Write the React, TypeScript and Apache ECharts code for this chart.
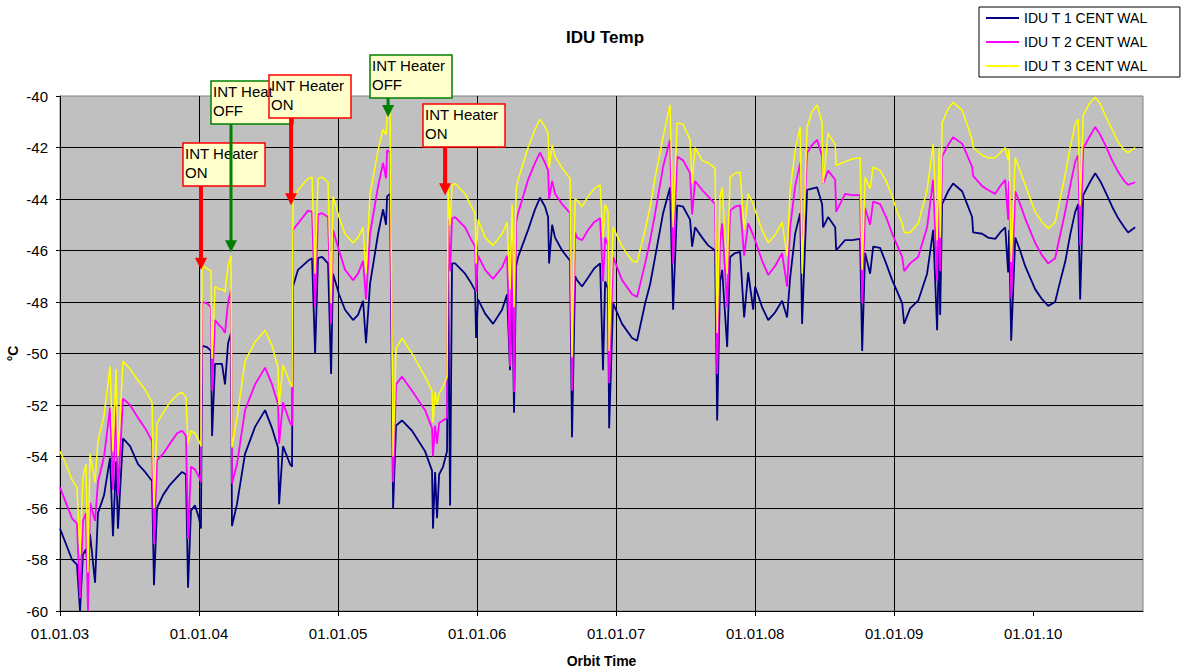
import { useEffect, useRef } from 'react';
import * as echarts from 'echarts';

// Orbit time in years since 01.01.03
const orbitTime = [
  0.000, 0.043, 0.086, 0.122, 0.144, 0.165, 0.187, 0.201, 0.216, 0.252,
  0.273, 0.317, 0.360, 0.381, 0.403, 0.417, 0.453, 0.504, 0.561, 0.612,
  0.662, 0.676, 0.698, 0.741, 0.791, 0.842, 0.878, 0.906, 0.921, 0.942,
  0.971, 1.000, 1.014, 1.022, 1.058, 1.086, 1.094, 1.115, 1.144, 1.165,
  1.187, 1.209, 1.230, 1.237, 1.273, 1.331, 1.403, 1.475, 1.525, 1.568,
  1.576, 1.604, 1.655, 1.669, 1.676, 1.712, 1.784, 1.813, 1.835, 1.856,
  1.885, 1.928, 1.950, 1.964, 2.007, 2.050, 2.108, 2.144, 2.180, 2.201,
  2.230, 2.288, 2.324, 2.345, 2.353, 2.374, 2.396, 2.417, 2.460, 2.532,
  2.626, 2.676, 2.683, 2.698, 2.712, 2.727, 2.755, 2.784, 2.791, 2.806,
  2.820, 2.842, 2.914, 2.950, 2.986, 2.993, 3.007, 3.058, 3.115, 3.180,
  3.216, 3.237, 3.252, 3.266, 3.281, 3.295, 3.367, 3.417, 3.453, 3.489,
  3.511, 3.518, 3.540, 3.561, 3.612, 3.669, 3.683, 3.705, 3.719, 3.755,
  3.799, 3.842, 3.885, 3.906, 3.921, 3.942, 3.950, 3.978, 4.043, 4.115,
  4.151, 4.209, 4.245, 4.281, 4.338, 4.388, 4.410, 4.439, 4.482, 4.532,
  4.547, 4.568, 4.619, 4.662, 4.712, 4.727, 4.748, 4.763, 4.799, 4.820,
  4.856, 4.892, 4.921, 4.950, 4.986, 5.000, 5.050, 5.094, 5.144, 5.194,
  5.230, 5.252, 5.288, 5.324, 5.338, 5.374, 5.410, 5.446, 5.482, 5.489,
  5.525, 5.576, 5.583, 5.647, 5.698, 5.755, 5.770, 5.791, 5.827, 5.849,
  5.899, 5.942, 5.986, 6.022, 6.058, 6.072, 6.115, 6.173, 6.237, 6.281,
  6.309, 6.324, 6.331, 6.345, 6.388, 6.424, 6.489, 6.525, 6.561, 6.568,
  6.633, 6.676, 6.727, 6.763, 6.799, 6.820, 6.827, 6.842, 6.871, 6.906,
  6.942, 7.014, 7.065, 7.108, 7.158, 7.194, 7.230, 7.266, 7.302, 7.324,
  7.338, 7.360, 7.403, 7.446, 7.482, 7.518, 7.568, 7.612, 7.655, 7.683,
  7.734,
];

// IDU T 1 CENT WAL (°C)
const t1Cent = [
  -56.8, -57.4, -58.0, -58.2, -60.0, -57.8, -57.6, -58.4, -57.0, -58.9,
  -56.2, -55.5, -54.05, -57.1, -54.2, -56.8, -53.3, -53.6, -54.3, -54.6,
  -54.95, -59.0, -56.0, -55.5, -55.1, -54.8, -54.6, -54.7, -59.1, -56.1,
  -55.9, -56.4, -56.8, -49.7, -49.75, -49.9, -53.2, -50.4, -50.4, -50.4,
  -51.2, -49.6, -49.2, -56.7, -55.85, -53.9, -52.85, -52.2, -52.9, -53.65,
  -55.85, -53.6, -54.3, -54.4, -47.4, -46.75, -46.4, -46.3, -50.0, -46.3,
  -46.25, -46.5, -50.8, -46.9, -47.7, -48.3, -48.7, -48.5, -47.95, -49.6,
  -47.3, -45.35, -44.4, -45.0, -43.9, -43.8, -56.0, -52.8, -52.6, -53.0,
  -53.8, -54.55, -56.8, -54.6, -56.4, -54.7, -54.4, -53.8, -46.5, -55.9,
  -46.5, -46.5, -46.9, -47.2, -47.55, -49.4, -47.9, -48.45, -48.85, -48.3,
  -47.7, -50.65, -47.3, -52.3, -46.6, -46.25, -45.2, -44.4, -43.95, -44.3,
  -44.7, -46.5, -45.0, -45.5, -46.0, -46.4, -53.25, -47.0, -47.15, -47.4,
  -47.05, -46.7, -46.5, -50.65, -47.2, -47.5, -52.9, -48.05, -48.85, -49.4,
  -49.5, -48.05, -47.3, -46.25, -44.55, -43.55, -48.3, -44.25, -44.3, -44.8,
  -45.85, -45.1, -45.5, -45.8, -46.0, -52.6, -47.2, -46.75, -49.75, -46.25,
  -46.1, -46.05, -48.6, -46.85, -48.3, -47.4, -48.2, -48.7, -48.4, -47.95,
  -48.6, -47.05, -45.35, -44.55, -48.85, -43.65, -43.6, -43.55, -44.2, -45.1,
  -44.7, -45.1, -46.0, -45.6, -45.6, -45.55, -49.9, -46.1, -46.9, -45.85,
  -45.9, -46.5, -47.15, -47.6, -48.05, -48.85, -48.25, -47.95, -46.9, -45.2,
  -49.1, -45.5, -48.5, -44.2, -43.7, -43.4, -43.7, -44.2, -44.7, -45.3,
  -45.35, -45.5, -45.55, -45.3, -45.1, -46.85, -45.2, -49.5, -45.5, -46.0,
  -46.6, -47.5, -47.9, -48.15, -48.0, -47.2, -46.45, -45.4, -44.5, -44.2,
  -47.9, -43.85, -43.4, -43.0, -43.3, -43.7, -44.3, -44.75, -45.1, -45.3,
  -45.1,
];

// IDU T 2 CENT WAL (°C)
const t2Cent = [
  -55.2, -55.8, -56.4, -56.6, -59.5, -56.5, -56.2, -60.0, -55.8, -56.5,
  -55.0, -54.0, -52.1, -55.3, -52.0, -55.5, -51.75, -52.0, -52.5, -52.9,
  -53.4, -57.4, -54.15, -53.9, -53.5, -53.1, -53.0, -53.2, -57.2, -54.4,
  -54.5, -54.8, -55.0, -48.0, -48.05, -48.2, -51.45, -48.7, -48.9, -49.0,
  -49.2, -48.0, -47.55, -55.05, -54.3, -52.2, -51.2, -50.55, -51.2, -51.95,
  -53.5, -51.9, -52.7, -52.8, -45.2, -44.95, -44.45, -44.5, -48.2, -44.6,
  -44.55, -44.7, -48.85, -45.2, -46.0, -46.75, -47.15, -46.9, -46.4, -47.9,
  -45.35, -43.5, -42.6, -43.2, -42.1, -42.2, -55.0, -51.2, -50.9, -51.45,
  -52.2, -52.9, -54.0, -52.8, -53.5, -52.7, -52.6, -52.5, -44.8, -46.8,
  -44.75, -44.7, -45.1, -45.5, -45.85, -47.6, -46.2, -46.75, -47.1, -46.65,
  -46.2, -50.5, -45.6, -51.5, -44.9, -44.55, -43.25, -42.6, -42.2, -42.6,
  -42.9, -44.0, -43.3, -43.8, -44.2, -44.55, -51.45, -45.3, -45.5, -45.6,
  -45.2, -44.9, -44.75, -47.2, -45.5, -45.8, -51.15, -46.25, -47.15, -47.7,
  -47.8, -46.5, -45.6, -44.55, -42.75, -41.7, -46.5, -42.35, -42.5, -43.0,
  -44.6, -43.3, -43.65, -43.9, -44.2, -50.8, -45.6, -44.95, -48.2, -44.45,
  -44.3, -44.25, -46.2, -44.95, -45.4, -45.6, -46.4, -46.95, -46.6, -46.1,
  -47.4, -45.1, -43.5, -42.6, -46.5, -42.2, -41.9, -41.7, -42.35, -43.4,
  -42.9, -43.25, -44.5, -43.8, -43.85, -43.85, -48.05, -44.35, -45.0, -44.1,
  -44.2, -44.7, -45.35, -45.8, -46.25, -46.8, -46.5, -46.25, -45.1, -43.25,
  -47.2, -44.0, -46.8, -42.35, -41.9, -41.6, -41.85, -42.3, -42.75, -43.1,
  -43.5, -43.65, -43.8, -43.5, -43.25, -44.8, -43.3, -47.85, -43.7, -44.2,
  -44.75, -45.7, -46.2, -46.5, -46.3, -45.4, -44.5, -43.5, -42.55, -42.3,
  -45.8, -42.05, -41.6, -41.2, -41.5, -41.9, -42.5, -42.95, -43.3, -43.45,
  -43.35,
];

// IDU T 3 CENT WAL (°C)
const t3Cent = [
  -53.8, -54.3, -54.9, -55.2, -57.8, -54.8, -54.3, -58.5, -53.9, -55.0,
  -53.4, -52.4, -50.5, -53.8, -50.6, -54.0, -50.3, -50.6, -51.05, -51.4,
  -51.9, -56.0, -52.7, -52.3, -51.9, -51.6, -51.5, -51.7, -53.5, -53.0,
  -53.1, -53.4, -53.6, -46.6, -46.7, -46.8, -50.2, -47.4, -47.5, -47.5,
  -47.6, -46.6, -46.2, -53.65, -52.5, -50.3, -49.55, -49.1, -49.7, -50.55,
  -52.0, -50.45, -51.15, -51.3, -44.05, -43.65, -43.2, -43.15, -46.9, -43.2,
  -43.15, -43.35, -48.05, -43.9, -44.7, -45.35, -45.7, -45.5, -45.1, -46.9,
  -43.8, -42.1, -41.3, -41.5, -40.8, -40.65, -54.0, -49.8, -49.4, -50.0,
  -50.9, -51.45, -52.7, -51.5, -52.0, -51.55, -51.3, -50.9, -43.5, -45.0,
  -43.45, -43.4, -43.8, -44.2, -44.55, -46.5, -44.8, -45.5, -45.8, -45.35,
  -44.9, -47.5, -44.2, -48.2, -43.6, -43.25, -42.0, -41.3, -40.9, -41.2,
  -41.45, -42.8, -41.9, -42.35, -42.8, -43.2, -50.15, -44.0, -44.05, -44.3,
  -43.9, -43.6, -43.45, -45.5, -44.2, -44.5, -49.9, -45.1, -45.85, -46.4,
  -46.45, -45.2, -44.3, -43.15, -41.6, -40.35, -45.1, -41.05, -41.1, -41.7,
  -43.4, -42.0, -42.5, -42.6, -42.8, -49.2, -43.9, -43.55, -46.9, -43.15,
  -43.0, -42.95, -45.2, -43.8, -44.2, -44.45, -45.2, -45.7, -45.4, -44.9,
  -46.2, -43.65, -42.1, -41.2, -46.9, -41.2, -40.6, -40.35, -41.05, -43.4,
  -41.45, -41.9, -42.7, -42.55, -42.45, -42.4, -46.75, -43.15, -43.6, -42.75,
  -42.9, -43.3, -43.9, -44.5, -44.95, -45.3, -45.3, -44.95, -43.65, -41.85,
  -45.6, -42.0, -45.5, -41.05, -40.5, -40.25, -40.55, -41.1, -41.7, -42.0,
  -42.3, -42.4, -42.4, -42.2, -42.0, -42.5, -42.05, -46.45, -42.4, -42.9,
  -43.45, -44.5, -44.9, -45.15, -44.9, -44.0, -43.05, -42.0, -41.1, -40.9,
  -44.25, -40.75, -40.3, -40.05, -40.3, -40.75, -41.3, -41.8, -42.1, -42.2,
  -42.0,
];

const seriesNames = ['IDU T 1 CENT WAL', 'IDU T 2 CENT WAL', 'IDU T 3 CENT WAL'];
const seriesColors = ['#000080', '#FF00FF', '#FFFF00'];
const yearLabels = ['01.01.03', '01.01.04', '01.01.05', '01.01.06', '01.01.07', '01.01.08', '01.01.09', '01.01.10'];

// Internal heater switching events: time (years since 01.01.03) and the temperature the arrow points at
const heaterEvents = [
  { time: 1.014, state: 'ON', target: -46.75 },
  { time: 1.230, state: 'OFF', target: -46.07 },
  { time: 1.662, state: 'ON', target: -44.24 },
  { time: 2.360, state: 'OFF', target: -40.82 },
  { time: 2.770, state: 'ON', target: -43.85 },
];

// Callout boxes (top-left corner, px) for each event; the second one is partly covered by the third
const calloutBoxes = [
  { left: 183, top: 143, textWidth: 0 },
  { left: 211, top: 81, textWidth: 62 },
  { left: 269, top: 75, textWidth: 0 },
  { left: 370, top: 55, textWidth: 0 },
  { left: 423, top: 104, textWidth: 0 },
];

const FONT = '"Liberation Sans", Arial, sans-serif';

export default function App() {
  const ref = useRef<HTMLDivElement>(null);

  useEffect(() => {
    if (!ref.current) return;
    const chart = echarts.init(ref.current, undefined, { renderer: 'svg' });
    const pairs = (vals: number[]) => orbitTime.map((t, i) => [t, vals[i]]);

    chart.setOption({
      animation: false,
      backgroundColor: '#FFFFFF',
      textStyle: { fontFamily: FONT },
      title: {
        text: 'IDU Temp',
        left: 600,
        textAlign: 'center',
        top: 24,
        textStyle: { fontSize: 17, fontWeight: 'bold', color: '#000', fontFamily: FONT },
      },
      legend: {
        data: seriesNames,
        orient: 'vertical',
        left: 979,
        top: 7,
        padding: [4, 32, 4, 6],
        itemWidth: 33,
        itemHeight: 14,
        itemGap: 10,
        backgroundColor: '#FFFFFF',
        borderColor: '#000000',
        borderWidth: 1,
        borderRadius: 0,
        itemStyle: { opacity: 0 },
        lineStyle: { width: 2 },
        textStyle: { fontSize: 14, color: '#000', fontFamily: FONT, lineHeight: 14 },
      },
      grid: {
        left: 60,
        right: 48,
        top: 96,
        bottom: 57,
        containLabel: false,
        outerBoundsMode: 'none',
        show: true,
        backgroundColor: '#C0C0C0',
        borderColor: '#808080',
        borderWidth: 1,
      },
      xAxis: {
        type: 'value',
        min: 0,
        max: 7.79,
        interval: 1,
        name: 'Orbit Time',
        nameLocation: 'middle',
        nameGap: 43,
        nameMoveOverlap: false,
        nameTextStyle: { fontSize: 14, fontWeight: 'bold', color: '#000', fontFamily: FONT },
        axisLine: { show: true, onZero: false, lineStyle: { color: '#000', width: 1 } },
        axisTick: { show: true, inside: false, length: 5, lineStyle: { color: '#000' }, customValues: [0, 1, 2, 3, 4, 5, 6, 7] },
        axisLabel: {
          color: '#000',
          fontSize: 15,
          fontFamily: FONT,
          margin: 15,
          customValues: [0, 1, 2, 3, 4, 5, 6, 7],
          formatter: (v: number) => (Number.isInteger(v) && yearLabels[v] ? yearLabels[v] : ''),
        },
        splitLine: { show: true, showMaxLine: false, lineStyle: { color: '#000', width: 1 } },
      },
      yAxis: {
        type: 'value',
        min: -60,
        max: -40,
        interval: 2,
        name: '°C',
        nameLocation: 'middle',
        nameRotate: 90,
        nameGap: 40,
        nameMoveOverlap: false,
        nameTextStyle: { fontSize: 14, fontWeight: 'bold', color: '#000', fontFamily: FONT },
        axisLine: { show: true, lineStyle: { color: '#000', width: 1 } },
        axisTick: { show: true, inside: false, length: 4, lineStyle: { color: '#000' } },
        axisLabel: { color: '#000', fontSize: 15, fontFamily: FONT, margin: 12 },
        splitLine: { show: true, showMaxLine: false, lineStyle: { color: '#000', width: 1 } },
      },
      series: [t1Cent, t2Cent, t3Cent].map((vals, i) => ({
        name: seriesNames[i],
        type: 'line',
        data: pairs(vals),
        symbol: 'none',
        color: seriesColors[i],
        lineStyle: { color: seriesColors[i], width: i === 2 ? 1.5 : 1.8 },
        z: 2 + i,
      })),
    });

    // Callout boxes with arrows pointing at the temperature when the heater switched
    const boxW = 82;
    const boxH = 43;
    const boxes: any[] = [];
    const arrows: any[] = [];
    heaterEvents.forEach((ev, i) => {
      const color = ev.state === 'ON' ? '#FF0000' : '#008000';
      const box = calloutBoxes[i];
      const firstLine: any = {
        type: 'text',
        x: box.left + 2,
        y: box.top + 3,
        style: {
          text: 'INT Heater',
          font: '15px ' + FONT,
          fill: '#000',
          textVerticalAlign: 'top',
          ...(box.textWidth ? { width: box.textWidth, overflow: 'truncate', ellipsis: '' } : {}),
        },
        z: 101,
      };
      boxes.push({
        type: 'group',
        z: 100,
        children: [
          {
            type: 'rect',
            shape: { x: box.left, y: box.top, width: boxW, height: boxH },
            style: { fill: '#FFFFCC', stroke: color, lineWidth: 1.5 },
            z: 100,
          },
          firstLine,
          {
            type: 'text',
            x: box.left + 2,
            y: box.top + 22,
            style: { text: ev.state, font: '15px ' + FONT, fill: '#000', textVerticalAlign: 'top' },
            z: 101,
          },
        ],
      });
      const [px, py] = chart.convertToPixel({ gridIndex: 0 }, [ev.time, ev.target]) as number[];
      const shaftW = ev.state === 'ON' ? 4 : 3;
      const headH = 12;
      const headHalf = 6;
      const startY = box.top + boxH;
      arrows.push({
        type: 'rect',
        shape: { x: px - shaftW / 2, y: startY, width: shaftW, height: py - headH - startY + 1 },
        style: { fill: color },
        z: 110,
      });
      arrows.push({
        type: 'polygon',
        shape: { points: [[px - headHalf, py - headH], [px + headHalf, py - headH], [px, py]] },
        style: { fill: color },
        z: 110,
      });
    });

    chart.setOption({ graphic: [...boxes, ...arrows] });

    return () => chart.dispose();
  }, []);

  return (
    <div
      ref={ref}
      style={{ position: 'fixed', left: 0, top: 0, width: 1191, height: 668, background: '#fff' }}
    />
  );
}
